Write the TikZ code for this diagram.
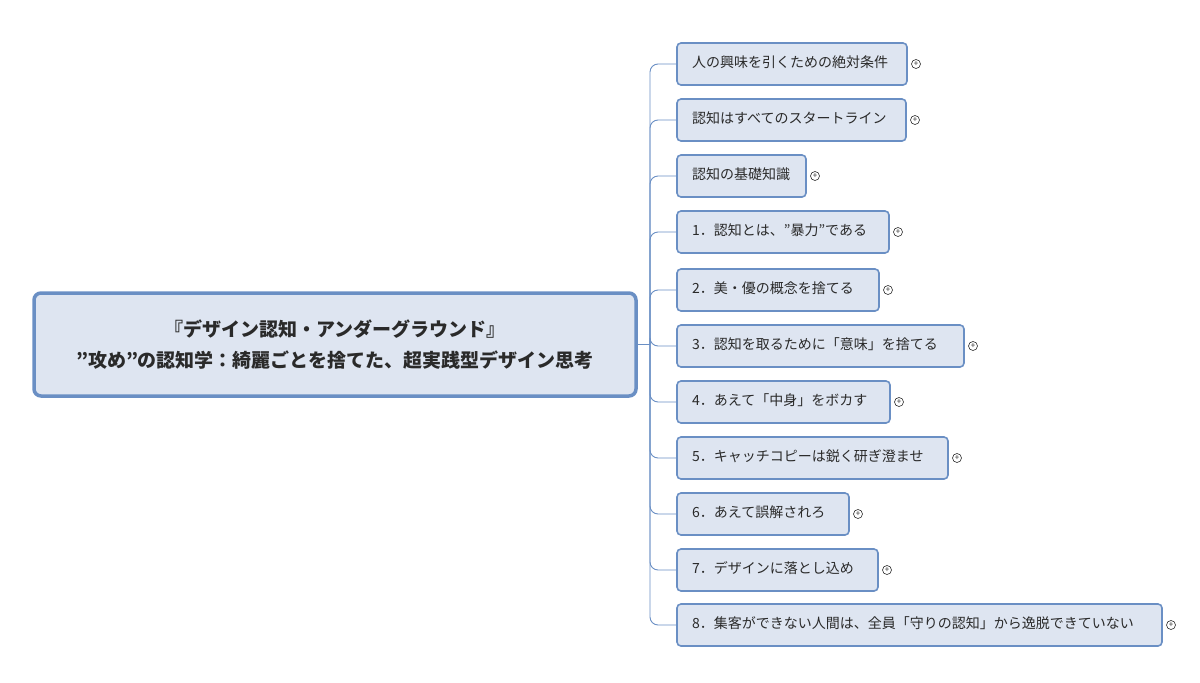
\documentclass[tikz,border=0pt]{standalone}
\usepackage{fontspec}
\setmainfont{Noto Sans CJK JP}
\begin{document}
\begin{tikzpicture}[x=1pt,y=-1pt,
  topic/.style={draw=boxline,line width=1.6pt,fill=boxfill,rounded corners=4pt},
  conn/.style={draw=boxline,line width=0.9pt,rounded corners=8pt},
  plus/.style={circle,draw=textc,line width=0.6pt,inner sep=0pt,minimum size=9pt,font=\fontsize{8}{8}\selectfont,text=textc}]
\definecolor{boxline}{HTML}{6A8FC4}
\definecolor{boxfill}{HTML}{DEE5F1}
\definecolor{textc}{HTML}{2A2A2A}
\useasboundingbox (0,0) rectangle (1200,683);
\node[draw=boxline,line width=3.5pt,fill=boxfill,rounded corners=7pt,minimum width=602pt,minimum height=103pt,text=textc,font=\bfseries\fontsize{19}{31}\selectfont,align=center] (root) at (335,344.5) {『デザイン認知・アンダーグラウンド』\\”攻め”の認知学：綺麗ごとを捨てた、超実践型デザイン思考};
\coordinate (hub) at (650,344.5);
\draw[conn] (root.east) -- (hub);
\foreach \i/\t/\r/\txt in {
 1/43/907/人の興味を引くための絶対条件,
 2/99/906/認知はすべてのスタートライン,
 3/155/806/認知の基礎知識,
 4/211/889/1．認知とは、”暴力”である,
 5/269/879/2．美・優の概念を捨てる,
 6/325/964/3．認知を取るために「意味」を捨てる,
 7/381/890/4．あえて「中身」をボカす,
 8/437/948/5．キャッチコピーは鋭く研ぎ澄ませ,
 9/493/849/6．あえて誤解されろ,
 10/549/878/7．デザインに落とし込め,
 11/604/1162/8．集客ができない人間は、全員「守りの認知」から逸脱できていない}{
  \path[topic] (677,\t) rectangle (\r,\t+42);
  \node[anchor=west,inner sep=0pt,font=\fontsize{14}{16}\selectfont,text=textc] (c\i) at (692,\t+19) {\txt};
  \coordinate (w\i) at (677,\t+21);
  \draw[conn] (hub) |- (w\i);
  \node[plus] (p\i) at (\r+9,\t+21) {+};
}
\end{tikzpicture}
\end{document}
